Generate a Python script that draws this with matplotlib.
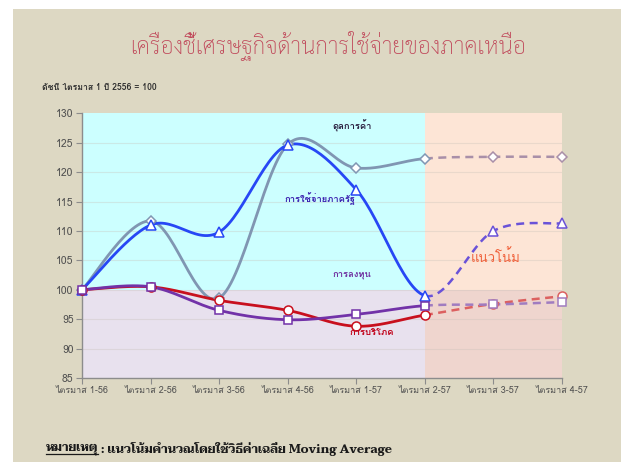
import matplotlib
matplotlib.use("Agg")
import matplotlib.pyplot as plt
from matplotlib import font_manager
from matplotlib.ft2font import FT2Font
from matplotlib.patches import Rectangle
import numpy as np

# ---------------- data ----------------
categories = ["ไตรมาส 1-56", "ไตรมาส 2-56", "ไตรมาส 3-56", "ไตรมาส 4-56",
              "ไตรมาส 1-57", "ไตรมาส 2-57", "ไตรมาส 3-57", "ไตรมาส 4-57"]
trade_balance = [100.0, 111.7, 98.6, 124.7, 120.7, 122.3, 122.6, 122.6]   # ดุลการค้า
gov_spending = [100.0, 111.0, 109.8, 124.6, 117.0, 99.0, 110.0, 111.3]    # การใช้จ่ายภาครัฐ
investment = [100.0, 100.5, 96.5, 94.9, 95.8, 97.3, 97.5, 97.9]           # การลงทุน
consumption = [100.0, 100.5, 98.2, 96.5, 93.8, 95.7, 97.6, 98.9]          # การบริโภค
y_ticks = [85, 90, 95, 100, 105, 110, 115, 120, 125, 130]
forecast_start = 5   # index where trend (แนวโน้ม) begins
base_value = 100

# ---------------- fonts with Thai glyphs ----------------
def thai_fonts():
    names = []
    seen = set()
    for f in font_manager.fontManager.ttflist:
        if f.fname in seen:
            continue
        seen.add(f.fname)
        try:
            cm = FT2Font(f.fname).get_charmap()
        except Exception:
            continue
        if 0x0E01 in cm and 0x0E40 in cm and f.name not in names:
            names.append(f.name)
    return names

tf = thai_fonts()

def pick(prefs):
    for p in prefs:
        if p in tf:
            return [p, "DejaVu Sans"]
    return ([tf[0], "DejaVu Sans"] if tf else ["DejaVu Sans"])

F_MAIN = pick(["Loma", "Noto Sans Thai"])
F_TITLE = pick(["Sarabun", "Thasadith", "Noto Sans Thai Looped", "Loma"])
F_NOTE = pick(["Taviraj", "Noto Serif Thai", "Trirong", "Loma"])
plt.rcParams["font.family"] = F_MAIN

# ---------------- smoothing (Excel-like) ----------------
PX_X = 68.5
PX_Y = 5.876

def smooth(y, n=30):
    x = np.arange(len(y), dtype=float)
    ys = np.asarray(y, float) * PX_Y / PX_X
    P = np.column_stack([x, ys])
    segs = []
    for i in range(len(P) - 1):
        p0 = P[i - 1] if i > 0 else P[i]
        p1, p2 = P[i], P[i + 1]
        p3 = P[i + 2] if i + 2 < len(P) else P[i + 1]
        c1 = p1 + (p2 - p0) / 6.0
        c2 = p2 - (p3 - p1) / 6.0
        t = np.linspace(0, 1, n)[:, None]
        b = (1 - t) ** 3 * p1 + 3 * (1 - t) ** 2 * t * c1 + 3 * (1 - t) * t ** 2 * c2 + t ** 3 * p2
        segs.append(np.column_stack([b[:, 0], b[:, 1] * PX_X / PX_Y]))
    return segs

# ---------------- figure ----------------
W, H = 621, 462
fig = plt.figure(figsize=(W / 100, H / 100), dpi=100)
fig.patch.set_facecolor("white")
fig.patches.append(Rectangle((13 / W, 0), 1, 1 - 9 / H, transform=fig.transFigure,
                             facecolor="#DDD8C3", edgecolor="none", zorder=-10))

ax = fig.add_axes([82 / W, 1 - 378 / H, (562 - 82) / W, (378 - 113.3) / H])
ax.set_facecolor("none")
n = len(categories)
ax.set_xlim(0, n - 1)
ax.set_ylim(y_ticks[0], y_ticks[-1])

# background regions
ax.add_patch(Rectangle((0, base_value), forecast_start, y_ticks[-1] - base_value,
                       facecolor="#CCFFFF", edgecolor="none", zorder=0))
ax.add_patch(Rectangle((0, y_ticks[0]), forecast_start, base_value - y_ticks[0],
                       facecolor="#E8E1EE", edgecolor="none", zorder=0))
ax.add_patch(Rectangle((forecast_start, base_value), n - 1 - forecast_start, y_ticks[-1] - base_value,
                       facecolor="#FDE5D6", edgecolor="none", zorder=0))
ax.add_patch(Rectangle((forecast_start, y_ticks[0]), n - 1 - forecast_start, base_value - y_ticks[0],
                       facecolor="#EFD5CE", edgecolor="none", zorder=0))
for yv in y_ticks[1:-1]:
    ax.axhline(yv, color="#C8C0B8", lw=0.8, alpha=0.35, zorder=1)

series = [
    (trade_balance, "#8096B2", "#A98FA8", "D", 5.5),
    (gov_spending, "#2747F5", "#6A52D8", "^", 7),
    (consumption, "#C8101E", "#DC6060", "o", 6.5),
    (investment, "#7232A8", "#A07CC0", "s", 6),
]
for vals, c_solid, c_dash, mk, ms in series:
    segs = smooth(vals)
    solid = np.vstack(segs[:forecast_start])
    dash = np.vstack(segs[forecast_start:])
    ax.plot(solid[:, 0], solid[:, 1], color=c_solid, lw=2.0, zorder=3, solid_capstyle="round")
    ax.plot(dash[:, 0], dash[:, 1], color=c_dash, lw=1.8, ls=(0, (3.2, 2.2)), zorder=3)
    xs = np.arange(n)
    ax.plot(xs[:forecast_start + 1], vals[:forecast_start + 1], ls="none", marker=mk, ms=ms,
            mfc="white", mec=c_solid, mew=1.1, zorder=4, clip_on=False)
    ax.plot(xs[forecast_start + 1:], vals[forecast_start + 1:], ls="none", marker=mk, ms=ms,
            mfc="white", mec=c_dash, mew=1.1, zorder=4, clip_on=False)

# axes styling
for s in ["top", "right"]:
    ax.spines[s].set_visible(False)
for s in ["left", "bottom"]:
    ax.spines[s].set_color("#8C8C8C")
    ax.spines[s].set_linewidth(1.0)
ax.set_yticks(y_ticks)
ax.set_yticklabels([str(v) for v in y_ticks], fontsize=7.5, color="#505050")
ax.set_xticks(np.arange(n))
ax.set_xticklabels(categories, fontsize=6.5, color="#505050")
ax.tick_params(axis="both", direction="out", length=4, color="#8C8C8C", pad=2)

# series labels
lab = dict(fontsize=6.8, fontweight="bold", ha="center", va="center", zorder=5)
ax.text(3.94, 127.8, "ดุลการค้า", color="#2A2040", **lab)
ax.text(3.47, 115.5, "การใช้จ่ายภาครัฐ", color="#3A20B0", **lab)
ax.text(3.94, 102.6, "การลงทุน", color="#7030A0", **lab)
ax.text(4.23, 92.8, "การบริโภค", color="#C00018", **lab)
ax.text(6.03, 105.6, "แนวโน้ม", fontsize=9.5, color="#F0603A", ha="center", va="center", zorder=5)

# titles / notes
title = fig.text(327.5 / W, 1 - 45 / H, "เครื่องชี้เศรษฐกิจด้านการใช้จ่ายของภาคเหนือ", fontsize=15,
                 color="#C0485A", ha="center", va="center", family=F_TITLE, fontweight="light")
fig.text(42 / W, 1 - 88 / H, "ดัชนี ไตรมาส 1 ปี 2556 = 100", fontsize=6.2, color="#303030",
         fontweight="bold", ha="left", va="center")
note_a = fig.text(46 / W, 1 - 449 / H, "หมายเหตุ", fontsize=9, color="#1A1A1A",
                  fontweight="bold", ha="left", va="center", family=F_NOTE)
note_b = fig.text(0, 1 - 449 / H, " : แนวโน้มคำนวณโดยใช้วิธีค่าเฉลี่ย Moving Average", fontsize=9,
                  color="#1A1A1A", fontweight="bold", ha="left", va="center", family=F_NOTE)

# fit title and note widths to the reference layout
r = fig.canvas.get_renderer()
tw = title.get_window_extent(r).width
title.set_fontsize(15 * 395.0 / tw)
wa = note_a.get_window_extent(r).width
wb = note_b.get_window_extent(r).width
k = 349.0 / (wa + wb)
note_a.set_fontsize(9 * k)
note_b.set_fontsize(9 * k)
bb = note_a.get_window_extent(r)
note_b.set_x(bb.x1 / W)
fig.add_artist(plt.Line2D([bb.x0 / W, bb.x1 / W], [(bb.y0 + 1) / H, (bb.y0 + 1) / H],
                          transform=fig.transFigure, color="#1A1A1A", lw=0.9))

fig.savefig("out.png", dpi=100)
